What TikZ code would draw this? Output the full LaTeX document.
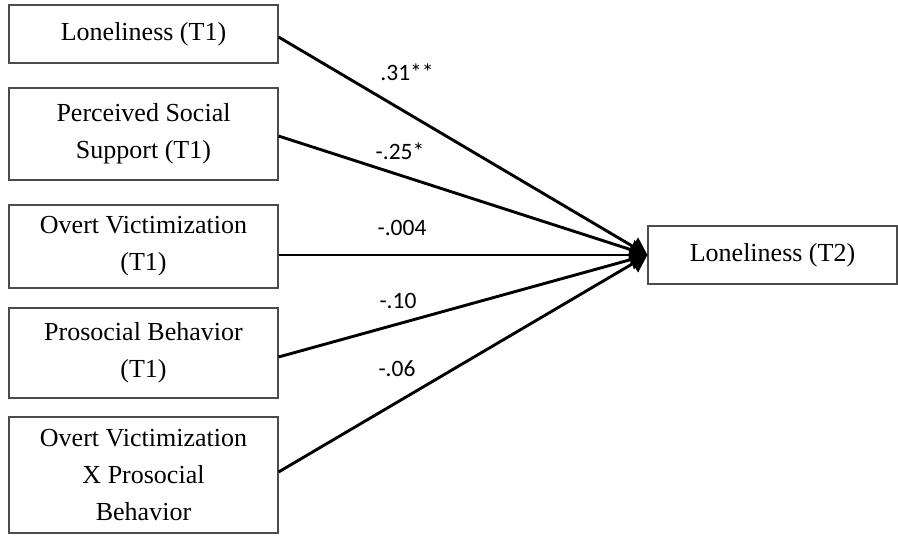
\documentclass[tikz,border=0pt]{standalone}
\usepackage{fontspec}
\setmainfont{Liberation Serif}
\newfontfamily\coeffont{Carlito}
\usepackage{tikz}
\usetikzlibrary{positioning,arrows.meta}

\begin{document}
\begin{tikzpicture}[x=1pt,y=-1pt,
  box/.style={draw=black!70,line width=1.1pt,align=center,inner sep=0pt,
              minimum width=269pt,font=\fontsize{26}{37}\selectfont},
  coef/.style={inner sep=0pt,font=\coeffont\fontsize{23.5}{27}\selectfont},
  arr/.style={-{Triangle[length=17pt,width=20pt]},line width=2.9pt,draw=black}]
\useasboundingbox (0,0) rectangle (898,539);
% predictors (T1)
\node[box,minimum height=58pt]  (lone1)  at (143.5,34)  {Loneliness (T1)};
\node[box,minimum height=92pt]  (pss)    at (143.5,134) {Perceived Social\\Support (T1)};
\node[box,minimum height=83pt]  (ovict)  at (143.5,246.5) {Overt Victimization\\(T1)};
\node[box,minimum height=90pt]  (prosoc) at (143.5,353) {Prosocial Behavior\\(T1)};
\node[box,minimum height=116pt] (inter)  at (143.5,475) {Overt Victimization\\X Prosocial\\Behavior};
% outcome (T2)
\node[box,minimum height=58pt,minimum width=249pt] (lone2) at (772.5,255) {Loneliness (T2)};
% path coefficients
\node[coef] (c1) at (407,72)  {.31**};
\node[coef] (c2) at (400,151) {-.25*};
\node[coef] (c3) at (402,228) {-.004};
\node[coef] (c4) at (398,301) {-.10};
\node[coef] (c5) at (397,369) {-.06};
\draw[arr] ([yshift=-3pt]lone1.east) -- (lone2.west);
\draw[arr] ([yshift=-2pt]pss.east) -- (lone2.west);
\draw[arr] (ovict.east |- lone2.west) -- (lone2.west);
\draw[arr] ([yshift=-4pt]prosoc.east) -- (lone2.west);
\draw[arr] ([yshift=3pt]inter.east) -- (lone2.west);
\end{tikzpicture}
\end{document}
